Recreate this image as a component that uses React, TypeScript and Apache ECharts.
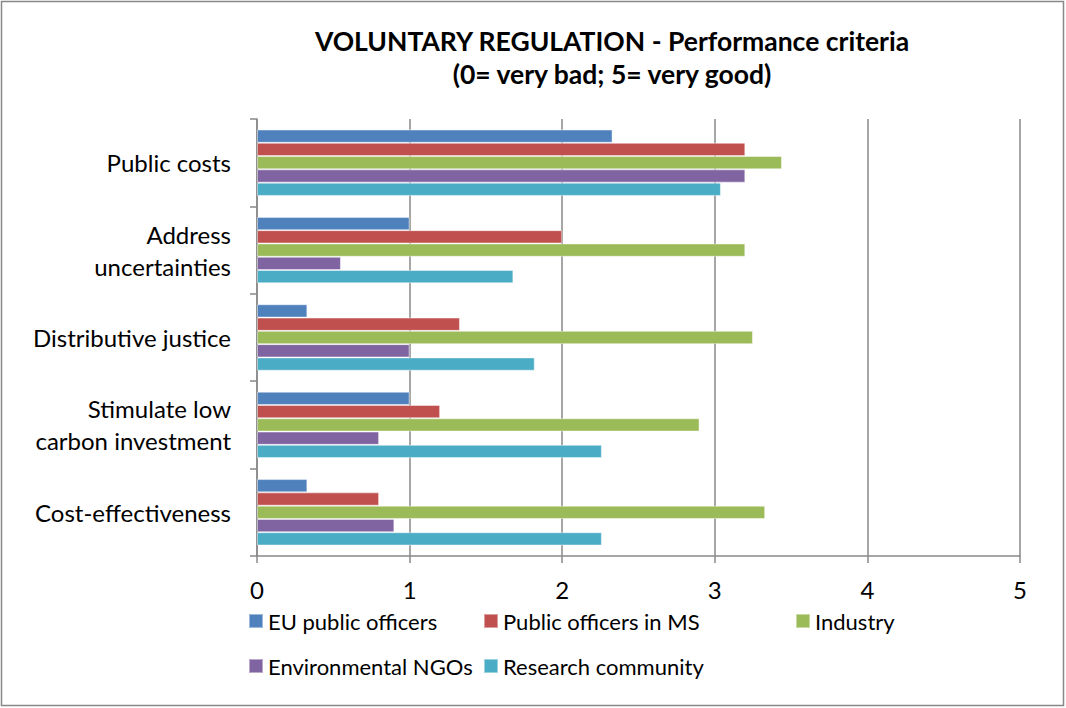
import React, { useEffect, useRef } from "react";
import * as echarts from "echarts";

const categories = [
  "Public costs",
  "Address\nuncertainties",
  "Distributive justice",
  "Stimulate low\ncarbon investment",
  "Cost-effectiveness",
];
const seriesNames = [
  "EU public officers",
  "Public officers in MS",
  "Industry",
  "Environmental NGOs",
  "Research community",
];
const colors = ["#4F81BD", "#C0504D", "#9BBB59", "#8064A2", "#4BACC6"];
const euPublicOfficers = [2.33, 1.0, 0.33, 1.0, 0.33];
const publicOfficersMS = [3.2, 2.0, 1.33, 1.2, 0.8];
const industry = [3.44, 3.2, 3.25, 2.9, 3.33];
const environmentalNGOs = [3.2, 0.55, 1.0, 0.8, 0.9];
const researchCommunity = [3.04, 1.68, 1.82, 2.26, 2.26];
const xTicks = [0, 1, 2, 3, 4, 5];

const seriesValues = [euPublicOfficers, publicOfficersMS, industry, environmentalNGOs, researchCommunity];

const legendPos = [
  { left: 243, top: 605 },
  { left: 478, top: 605 },
  { left: 790, top: 605 },
  { left: 243, top: 650 },
  { left: 478, top: 650 },
];

export default function App() {
  const ref = useRef<HTMLDivElement>(null);
  useEffect(() => {
    const chart = echarts.init(ref.current!, null, { renderer: "svg" });
    const font = "Lato, 'Open Sans', sans-serif";
    chart.setOption({
      animation: false,
      backgroundColor: "#fff",
      textStyle: { fontFamily: font },
      title: {
        text: "VOLUNTARY REGULATION - Performance criteria\n(0= very bad; 5= very good)",
        left: 607,
        textAlign: "center",
        top: 19,
        textStyle: { fontSize: 26.5, fontWeight: "bold", color: "#000", lineHeight: 33, fontFamily: font },
      },
      legend: seriesNames.map((n, i) => ({
        data: [n],
        left: legendPos[i].left,
        top: legendPos[i].top,
        itemWidth: 14,
        itemHeight: 14,
        icon: "rect",
        textStyle: { fontSize: 22, color: "#000", fontFamily: font },
      })),
      grid: { left: 257, right: 46, top: 119, bottom: 152, containLabel: false },
      xAxis: {
        type: "value",
        min: 0,
        max: 5,
        interval: 1,
        axisLine: { show: true, lineStyle: { color: "#888", width: 1.5 } },
        axisTick: { show: true, length: 7, lineStyle: { color: "#888", width: 1.5 } },
        splitLine: { show: true, lineStyle: { color: "#888", width: 1.5 } },
        axisLabel: {
          fontSize: 24,
          color: "#000",
          margin: 21,
          fontFamily: font,
          formatter: (v: number) => (xTicks.includes(v) ? String(v) : ""),
        },
      },
      yAxis: {
        type: "category",
        inverse: true,
        data: categories,
        axisLine: { show: true, lineStyle: { color: "#888", width: 1.5 } },
        axisTick: { show: true, length: 7, lineStyle: { color: "#888", width: 1.5 } },
        axisLabel: { fontSize: 24, color: "#000", margin: 26, lineHeight: 32, fontFamily: font },
      },
      series: seriesNames.map((n, i) => ({
        name: n,
        type: "bar",
        data: seriesValues[i],
        barGap: "0%",
        barCategoryGap: "24%",
        itemStyle: { color: colors[i], borderColor: "rgba(255,255,255,0.45)", borderWidth: 1 },
      })),
      graphic: [
        {
          type: "rect",
          shape: { x: 1.5, y: 1.5, width: 1062, height: 704 },
          style: { fill: "none", stroke: "#888", lineWidth: 1.5 },
          silent: true,
        },
      ],
    });
    return () => chart.dispose();
  }, []);
  return (
    <div
      ref={ref}
      style={{ position: "fixed", left: 0, top: 0, width: 1066, height: 708 }}
    />
  );
}
